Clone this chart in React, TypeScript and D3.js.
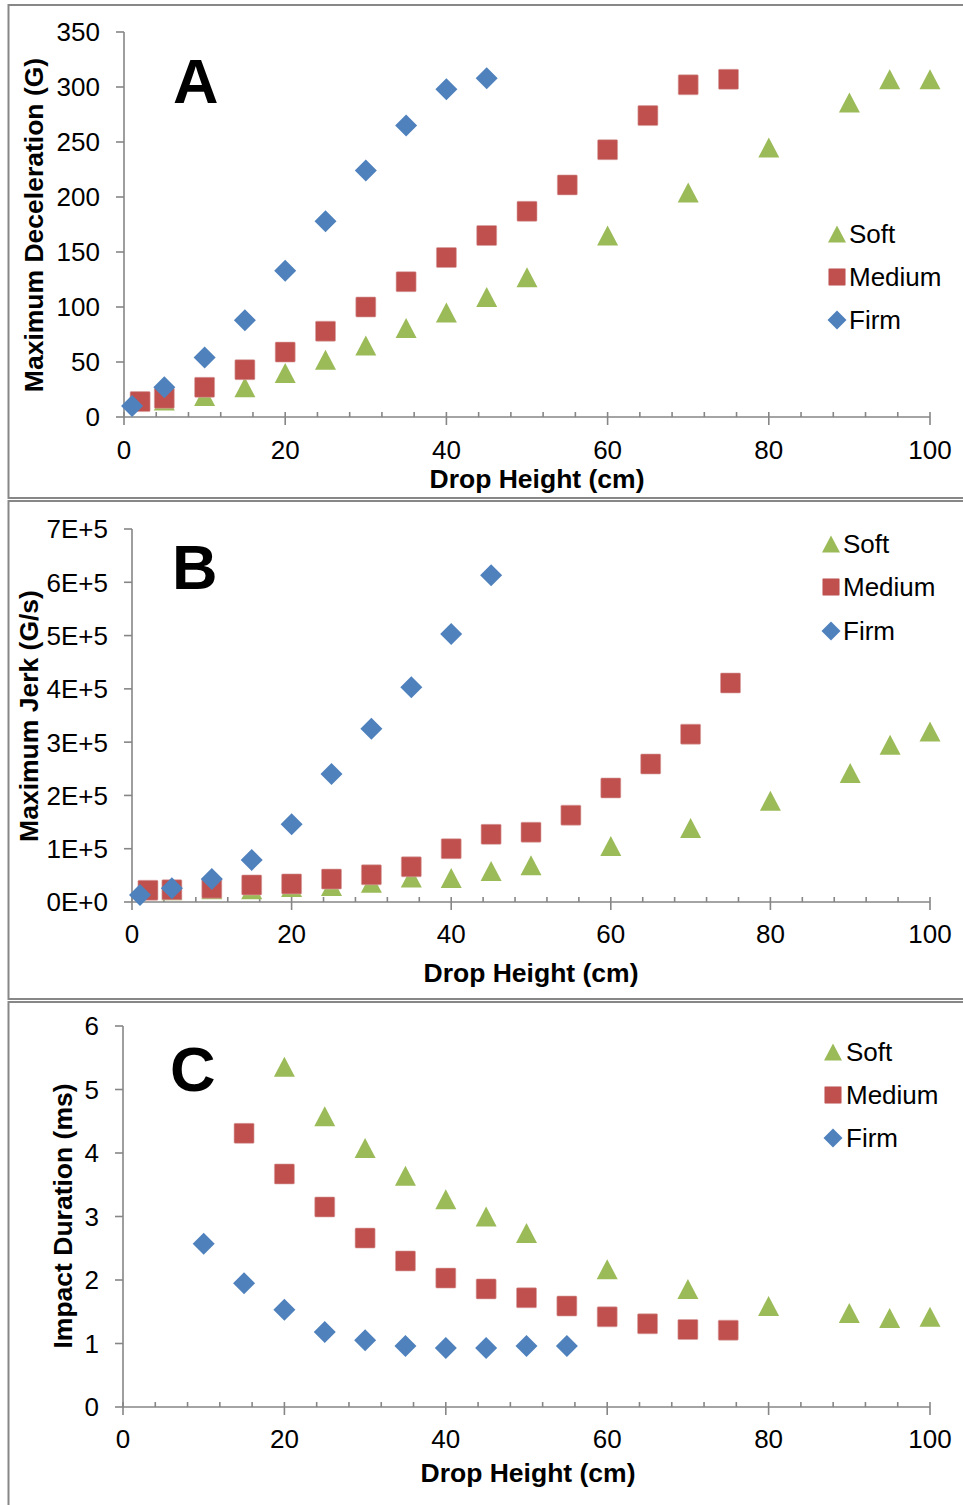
import React from "react";
import * as d3 from "d3";

// ---------- Data ----------
// Panel A: Maximum Deceleration (G)
const aFirmX = [1, 5, 10, 15, 20, 25, 30, 35, 40, 45];
const aFirmY = [10, 27, 54, 88, 133, 178, 224, 265, 298, 308];
const aMediumX = [2, 5, 10, 15, 20, 25, 30, 35, 40, 45, 50, 55, 60, 65, 70, 75];
const aMediumY = [14, 17, 27, 43, 59, 78, 100, 123, 145, 165, 187, 211, 243, 274, 302, 307];
const aSoftX = [5, 10, 15, 20, 25, 30, 35, 40, 45, 50, 60, 70, 80, 90, 95, 100];
const aSoftY = [15, 19, 27, 40, 52, 65, 81, 95, 109, 127, 165, 204, 245, 286, 307, 307];

// Panel B: Maximum Jerk (G/s)
const bFirmX = [1, 5, 10, 15, 20, 25, 30, 35, 40, 45];
const bFirmY = [13000, 26000, 43000, 79000, 146000, 240000, 325000, 403000, 503000, 613000];
const bMediumX = [2, 5, 10, 15, 20, 25, 30, 35, 40, 45, 50, 55, 60, 65, 70, 75];
const bMediumY = [22000, 23000, 26000, 32000, 34000, 43000, 51000, 66000, 100000, 127000, 131000, 163000, 214000, 259000, 315000, 411000];
const bSoftX = [5, 10, 15, 20, 25, 30, 35, 40, 45, 50, 60, 70, 80, 90, 95, 100];
const bSoftY = [22000, 24000, 24000, 28000, 30000, 36000, 46000, 45000, 58000, 69000, 105000, 139000, 190000, 242000, 295000, 320000];

// Panel C: Impact Duration (ms)
const cFirmX = [10, 15, 20, 25, 30, 35, 40, 45, 50, 55];
const cFirmY = [2.57, 1.95, 1.53, 1.18, 1.05, 0.96, 0.93, 0.93, 0.96, 0.96];
const cMediumX = [15, 20, 25, 30, 35, 40, 45, 50, 55, 60, 65, 70, 75];
const cMediumY = [4.31, 3.67, 3.15, 2.66, 2.3, 2.03, 1.86, 1.72, 1.59, 1.42, 1.31, 1.22, 1.21];
const cSoftX = [20, 25, 30, 35, 40, 45, 50, 60, 70, 80, 90, 95, 100];
const cSoftY = [5.36, 4.58, 4.08, 3.64, 3.27, 3.0, 2.74, 2.17, 1.86, 1.59, 1.48, 1.4, 1.42];

const seriesNames = ["Soft", "Medium", "Firm"];
const aYTicks = [0, 50, 100, 150, 200, 250, 300, 350];
const bYTicks = [0, 100000, 200000, 300000, 400000, 500000, 600000, 700000];
const bYTickLabels = ["0E+0", "1E+5", "2E+5", "3E+5", "4E+5", "5E+5", "6E+5", "7E+5"];
const cYTicks = [0, 1, 2, 3, 4, 5, 6];
const xTicks = [0, 20, 40, 60, 80, 100];
const xMinorTicks = d3.range(0, 101, 4);

const COLORS: Record<string, string> = { Soft: "#9BBB59", Medium: "#C0504D", Firm: "#4F81BD" };
const AXIS = "#868686";
const FONT = "'Liberation Sans', Arial, sans-serif";

function Marker({ kind, x, y, s }: { kind: string; x: number; y: number; s: number }) {
  const c = COLORS[kind];
  if (kind === "Medium") {
    return <rect x={x - s / 2} y={y - s / 2} width={s} height={s} fill={c} stroke="#d9a3a2" strokeWidth={0.6} rx={1} />;
  }
  if (kind === "Firm") {
    const h = s / 2 + 1;
    return <path d={`M${x},${y - h}L${x + h},${y}L${x},${y + h}L${x - h},${y}Z`} fill={c} />;
  }
  const h = s / 2;
  return <path d={`M${x},${y - h}L${x + h + 0.5},${y + h}L${x - h - 0.5},${y + h}Z`} fill={c} />;
}

type Panel = {
  frame: [number, number];
  xr: [number, number];
  yDomain: [number, number];
  yr: [number, number];
  yTicks: number[];
  yTickLabels: string[];
  yTitle: string;
  yTitlePos: [number, number];
  letter: string;
  letterPos: [number, number];
  legend: { mx: number; tx: number; ys: number[] };
  series: { name: string; xs: number[]; ys: number[] }[];
  tickBaseline: number;
  titleBaseline: number;
  titleX: number;
};

const panels: Panel[] = [
  {
    frame: [5, 498],
    xr: [124, 930],
    yDomain: [0, 350],
    yr: [417, 32],
    yTicks: aYTicks,
    yTickLabels: aYTicks.map(String),
    yTitle: "Maximum Deceleration (G)",
    yTitlePos: [43, 225],
    letter: "A",
    letterPos: [173, 103],
    legend: { mx: 837, tx: 849, ys: [234, 277, 320] },
    series: [
      { name: "Soft", xs: aSoftX, ys: aSoftY },
      { name: "Medium", xs: aMediumX, ys: aMediumY },
      { name: "Firm", xs: aFirmX, ys: aFirmY },
    ],
    tickBaseline: 459,
    titleBaseline: 488,
    titleX: 537,
  },
  {
    frame: [501, 999],
    xr: [132, 930],
    yDomain: [0, 700000],
    yr: [902, 529],
    yTicks: bYTicks,
    yTickLabels: bYTickLabels,
    yTitle: "Maximum Jerk (G/s)",
    yTitlePos: [38, 716],
    letter: "B",
    letterPos: [172, 589],
    legend: { mx: 831, tx: 843, ys: [544, 587, 631] },
    series: [
      { name: "Soft", xs: bSoftX, ys: bSoftY },
      { name: "Medium", xs: bMediumX, ys: bMediumY },
      { name: "Firm", xs: bFirmX, ys: bFirmY },
    ],
    tickBaseline: 943,
    titleBaseline: 982,
    titleX: 531,
  },
  {
    frame: [1002, 1520],
    xr: [123, 930],
    yDomain: [0, 6],
    yr: [1407, 1026],
    yTicks: cYTicks,
    yTickLabels: cYTicks.map(String),
    yTitle: "Impact Duration (ms)",
    yTitlePos: [72, 1216],
    letter: "C",
    letterPos: [170, 1091],
    legend: { mx: 833, tx: 846, ys: [1052, 1095, 1138] },
    series: [
      { name: "Soft", xs: cSoftX, ys: cSoftY },
      { name: "Medium", xs: cMediumX, ys: cMediumY },
      { name: "Firm", xs: cFirmX, ys: cFirmY },
    ],
    tickBaseline: 1448,
    titleBaseline: 1482,
    titleX: 528,
  },
];

function PanelView({ p }: { p: Panel }) {
  const x = d3.scaleLinear().domain([0, 100]).range(p.xr);
  const y = d3.scaleLinear().domain(p.yDomain).range(p.yr);
  const y0 = y(p.yDomain[0]);
  const x0 = x(0);
  return (
    <g>
      <rect x={8.5} y={p.frame[0]} width={970} height={p.frame[1] - p.frame[0]} fill="#fff" stroke="#878787" strokeWidth={2} />
      {/* axes */}
      <line x1={x0} x2={x0} y1={y(p.yDomain[1])} y2={y0} stroke={AXIS} strokeWidth={1.6} />
      <line x1={x0} x2={x(100)} y1={y0} y2={y0} stroke={AXIS} strokeWidth={1.6} />
      {p.yTicks.map((t, i) => (
        <g key={"yt" + i}>
          <line x1={x0 - 8} x2={x0} y1={y(t)} y2={y(t)} stroke={AXIS} strokeWidth={1.6} />
          <text x={x0 - 24} y={y(t)} dy="0.36em" textAnchor="end" fontSize={26} fontFamily={FONT} fill="#000">
            {p.yTickLabels[i]}
          </text>
        </g>
      ))}
      {xMinorTicks.map((t) => (
        <line key={"mt" + t} x1={x(t)} x2={x(t)} y1={y0 - 5} y2={y0} stroke={AXIS} strokeWidth={1.6} />
      ))}
      {xTicks.map((t) => (
        <g key={"xt" + t}>
          <line x1={x(t)} x2={x(t)} y1={y0} y2={y0 + 8} stroke={AXIS} strokeWidth={1.6} />
          <text x={x(t)} y={p.tickBaseline} textAnchor="middle" fontSize={26} fontFamily={FONT} fill="#000">
            {t}
          </text>
        </g>
      ))}
      <text x={p.titleX} y={p.titleBaseline} textAnchor="middle" fontSize={26.5} fontWeight="bold" fontFamily={FONT}>
        Drop Height (cm)
      </text>
      <text
        transform={`translate(${p.yTitlePos[0]},${p.yTitlePos[1]}) rotate(-90)`}
        textAnchor="middle"
        fontSize={26.5}
        fontWeight="bold"
        fontFamily={FONT}
      >
        {p.yTitle}
      </text>
      <text x={p.letterPos[0]} y={p.letterPos[1]} fontSize={63} fontWeight="bold" fontFamily={FONT}>
        {p.letter}
      </text>
      {/* data */}
      {p.series.map((s) => (
        <g key={s.name}>
          {s.xs.map((xv, i) => (
            <Marker key={i} kind={s.name} x={x(xv)} y={y(s.ys[i])} s={20} />
          ))}
        </g>
      ))}
      {/* legend */}
      {seriesNames.map((n, i) => (
        <g key={"lg" + n}>
          <Marker kind={n} x={p.legend.mx} y={p.legend.ys[i]} s={17} />
          <text x={p.legend.tx} y={p.legend.ys[i]} dy="0.36em" fontSize={26} fontFamily={FONT}>
            {n}
          </text>
        </g>
      ))}
    </g>
  );
}

export default function App() {
  return (
    <svg
      width={963}
      height={1505}
      style={{ position: "absolute", left: 0, top: 0, background: "#fff" }}
    >
      <rect x={0} y={0} width={963} height={1505} fill="#fff" />
      {panels.map((p) => (
        <PanelView key={p.letter} p={p} />
      ))}
    </svg>
  );
}
